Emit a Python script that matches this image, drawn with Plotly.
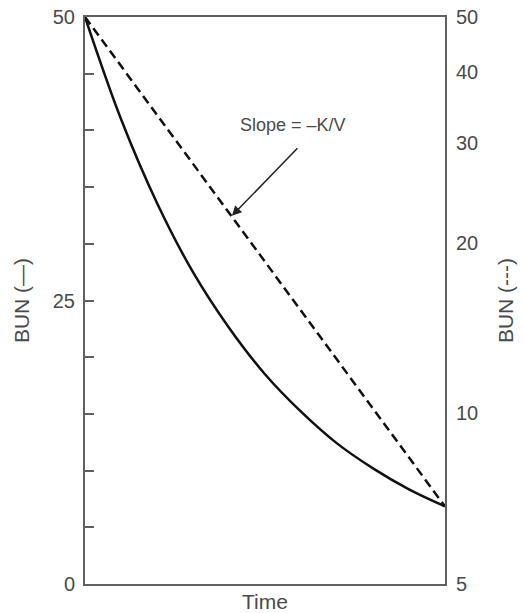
import math
import plotly.graph_objects as go

# Data
time_solid = [0.0, 0.1, 0.2, 0.3, 0.4, 0.5, 0.6, 0.7, 0.8, 0.9, 1.0]
bun_linear = [50, 41.0, 33.6, 27.5, 22.6, 18.5, 15.2, 12.4, 10.2, 8.35, 6.85]

time_dashed = [0.0, 1.0]
bun_log = [50, 6.85]

left_ticks = [0, 5, 10, 15, 20, 25, 30, 35, 40, 45, 50]
left_labels = ["0", "", "", "", "", "25", "", "", "", "", "50"]
right_ticks = [5, 10, 20, 30, 40, 50]
right_labels = ["5", "10", "20", "30", "40", "50"]

annot_text = "Slope = \u2013K/V"
arrow_tip_time = 0.408
arrow_tip_bun = 22.3
annot_time = 0.578
annot_bun = 32.3

FONT = "Liberation Sans, Arial, Helvetica, sans-serif"
TXT = "#4a4a4a"
AX = "#606060"

fig = go.Figure()
fig.add_trace(go.Scatter(x=time_solid, y=bun_linear, mode="lines",
                         line=dict(color="#111111", width=2.5, shape="spline"),
                         yaxis="y", showlegend=False, hoverinfo="skip"))
fig.add_trace(go.Scatter(x=time_dashed, y=bun_log, mode="lines",
                         line=dict(color="#111111", width=2.5, dash="9px,5px"),
                         yaxis="y2", showlegend=False, hoverinfo="skip"))

fig.add_annotation(x=arrow_tip_time, y=math.log10(arrow_tip_bun), xref="x", yref="y2",
                   text="", showarrow=True, arrowhead=2, arrowsize=1.3, arrowwidth=1.5,
                   arrowcolor="#222222", ax=67, ay=-69)
fig.add_annotation(x=annot_time, y=math.log10(annot_bun), xref="x", yref="y2",
                   text=annot_text, showarrow=False,
                   font=dict(family=FONT, size=18, color=TXT))

fig.update_layout(
    width=524, height=613,
    margin=dict(l=85, r=79, t=17, b=29, autoexpand=False),
    paper_bgcolor="white", plot_bgcolor="white",
    font=dict(family=FONT, color=TXT),
    hovermode=False,
    xaxis=dict(range=[0, 1], showgrid=False, zeroline=False, showticklabels=False,
               ticks="", showline=True, linecolor=AX, linewidth=2, mirror=True,
               automargin=False,
               title=dict(text="Time", font=dict(size=21, color=TXT), standoff=9)),
    yaxis=dict(range=[0, 50], tickvals=left_ticks, ticktext=left_labels,
               ticks="inside", ticklen=9, tickwidth=2, tickcolor=AX, automargin=False,
               showgrid=False, zeroline=False, showline=True, linecolor=AX, linewidth=2,
               tickfont=dict(size=20, color=TXT), ticklabelstandoff=4,
               ticklabeloverflow="allow",
               title=dict(text="BUN (\u2014)", font=dict(size=21, color=TXT), standoff=17)),
    yaxis2=dict(type="log", range=[math.log10(5), math.log10(50)], overlaying="y",
                side="right", tickvals=right_ticks, ticktext=right_labels, ticks="",
                automargin=False, ticklabeloverflow="allow",
                showgrid=False, zeroline=False, showline=True, linecolor=AX, linewidth=2,
                tickfont=dict(size=20, color=TXT), ticklabelstandoff=5,
                title=dict(text="BUN (---)", font=dict(size=21, color=TXT), standoff=21)),
)

fig.write_html("out.html", config={"displayModeBar": False},
               post_script="document.body.style.margin='0';document.body.style.overflow='hidden';")
